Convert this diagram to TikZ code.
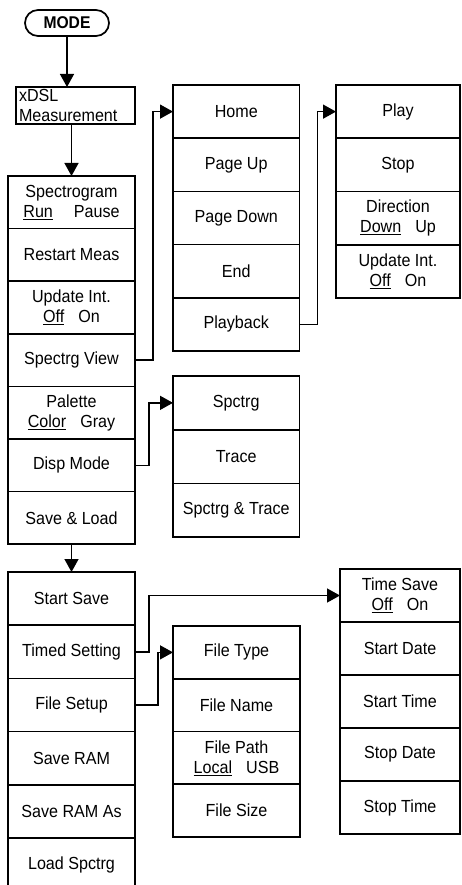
\documentclass[tikz,border=0pt]{standalone}
\usepackage{fontspec}
\setmainfont{Liberation Sans}[FakeStretch=0.92]
\usetikzlibrary{arrows.meta}
\newcommand{\sel}[1]{\underline{#1}}

\begin{document}
\begin{tikzpicture}[x=1pt, y=-1pt,
  font=\fontsize{17.5}{20}\selectfont,
  cell/.style={draw, line width=1.7, align=center, inner sep=0, outer sep=0},
  link/.style={line width=1.4, -{Triangle[length=13pt, width=14pt]}}]
  \useasboundingbox (0,0) rectangle (461,885);
  \clip (0,0) rectangle (461,885);

  % entry
  \node[draw, line width=1.7, rounded corners=13, minimum width=84,
        minimum height=26, inner sep=0, outer sep=0, font=\fontsize{17}{20}\bfseries]
        (mode) at (67,23) {MODE};
  \node[cell, align=left, text width=113, inner xsep=3, minimum height=37]
        (xdsl) at (75.5,105.5) {xDSL\\Measurement};

  % main menu
  \foreach \t [count=\i] in {{Spectrogram\\\sel{Run}\hspace{1.2em}Pause}, Restart Meas,
      {Update Int.\\\sel{Off}\hspace{0.8em}On}, Spectrg View,
      {Palette\\\sel{Color}\hspace{0.8em}Gray}, Disp Mode, Save \& Load}
    \node[cell, minimum width=127, minimum height=52.6] (m\i)
      at ({71.5}, {176+52.6*(\i-0.5)}) {\t};

  % Spectrg View
  \foreach \t [count=\i] in {Home, Page Up, Page Down, End, Playback}
    \node[cell, minimum width=126.5, minimum height=53.2] (v\i)
      at ({236.25}, {85+53.2*(\i-0.5)}) {\t};

  % Playback
  \foreach \t [count=\i] in {Play, Stop, {Direction\\\sel{Down}\hspace{0.8em}Up},
      {Update Int.\\\sel{Off}\hspace{0.8em}On}}
    \node[cell, minimum width=124, minimum height=53.25] (p\i)
      at ({398}, {85+53.25*(\i-0.5)}) {\t};

  % Disp Mode
  \foreach \t [count=\i] in {Spctrg, Trace, Spctrg \& Trace}
    \node[cell, minimum width=126.5, minimum height=53.7] (d\i)
      at ({236.25}, {376+53.7*(\i-0.5)}) {\t};

  % Save & Load
  \foreach \t [count=\i] in {Start Save, Timed Setting, File Setup, Save RAM,
      Save RAM As, Load Spctrg}
    \node[cell, minimum width=127, minimum height=53.2] (s\i)
      at ({71.5}, {572+53.2*(\i-0.5)}) {\t};

  % Timed Setting
  \foreach \t [count=\i] in {{Time Save\\\sel{Off}\hspace{0.8em}On}, Start Date,
      Start Time, Stop Date, Stop Time}
    \node[cell, minimum width=120, minimum height=53] (t\i)
      at ({400}, {569+53*(\i-0.5)}) {\t};

  % File Setup
  \foreach \t [count=\i] in {File Type, File Name,
      {File Path\\\sel{Local}\hspace{0.8em}USB}, File Size}
    \node[cell, minimum width=127, minimum height=52.75] (f\i)
      at ({236.5}, {626+52.75*(\i-0.5)}) {\t};

  % connectors
  \draw[link] (mode.south) -- (mode.south |- xdsl.north);
  \draw[link] (xdsl.south -| m1.north) -- (m1.north);
  \draw[link] (m7.south) -- (s1.north);
  \draw[link] (m4.east) -- ++(18,0) |- (v1.west);
  \draw[link] (m6.east) -- ++(14,0) |- (d1.west);
  \draw[link] (v5.east) -- ++(18,0) |- (p1.west);
  \draw[link] (s2.east) -- ++(14,0) |- (t1.west);
  \draw[link] (s3.east) -- ++(23,0) |- (f1.west);
\end{tikzpicture}
\end{document}
